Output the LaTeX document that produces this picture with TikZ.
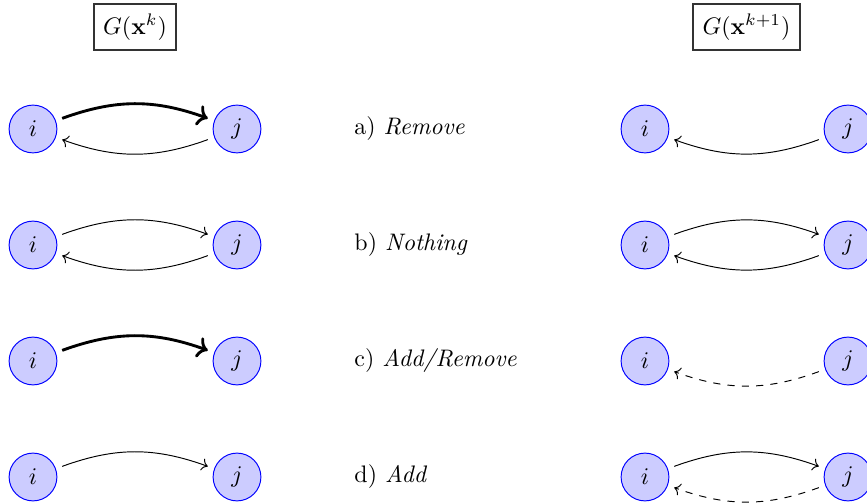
\documentclass[tikz,border=0pt]{standalone}
\usetikzlibrary{arrows.meta}
\begin{document}
\begin{tikzpicture}[x=0.4184pt,y=-0.4184pt,
  vert/.style={circle,draw=blue,fill=blue!20,minimum size=20pt,inner sep=0pt,outer sep=3pt},
  titlebox/.style={draw=black!80,thick,inner sep=4pt},
  lbl/.style={anchor=west,inner sep=0pt},
  heavy/.style={->,very thick},
  light/.style={->,thin},
  lightdash/.style={->,thin,dashed}]
\useasboundingbox (0,0) rectangle (867,504);
% titles
\node[titlebox] (tl) at (135,27) {$G(\mathbf{x}^k)$};
\node[titlebox] (tr) at (746.5,27) {$G(\mathbf{x}^{k+1})$};
% row a
\node[vert] (ai) at (33,129) {$i$};
\node[vert] (aj) at (237,129) {$j$};
\node[vert] (ai2) at (645,129) {$i$};
\node[vert] (aj2) at (848,129) {$j$};
\node[lbl] (al) at (354,129) {a) \textit{Remove}};
\draw[heavy] (ai) to[bend left=20] (aj);
\draw[light] (aj) to[bend left=20] (ai);
\draw[light] (aj2) to[bend left=20] (ai2);
% row b
\node[vert] (bi) at (33,245) {$i$};
\node[vert] (bj) at (237,245) {$j$};
\node[vert] (bi2) at (645,245) {$i$};
\node[vert] (bj2) at (848,245) {$j$};
\node[lbl] (bl) at (354,245) {b) \textit{Nothing}};
\draw[light] (bi) to[bend left=20] (bj);
\draw[light] (bj) to[bend left=20] (bi);
\draw[light] (bi2) to[bend left=20] (bj2);
\draw[light] (bj2) to[bend left=20] (bi2);
% row c
\node[vert] (ci) at (33,361) {$i$};
\node[vert] (cj) at (237,361) {$j$};
\node[vert] (ci2) at (645,361) {$i$};
\node[vert] (cj2) at (848,361) {$j$};
\node[lbl] (cl) at (354,361) {c) \textit{Add/Remove}};
\draw[heavy] (ci) to[bend left=20] (cj);
\draw[lightdash] (cj2) to[bend left=20] (ci2);
% row d
\node[vert] (di) at (33,477) {$i$};
\node[vert] (dj) at (237,477) {$j$};
\node[vert] (di2) at (645,477) {$i$};
\node[vert] (dj2) at (848,477) {$j$};
\node[lbl] (dl) at (354,477) {d) \textit{Add}};
\draw[light] (di) to[bend left=20] (dj);
\draw[light] (di2) to[bend left=20] (dj2);
\draw[lightdash] (dj2) to[bend left=20] (di2);
\end{tikzpicture}
\end{document}
